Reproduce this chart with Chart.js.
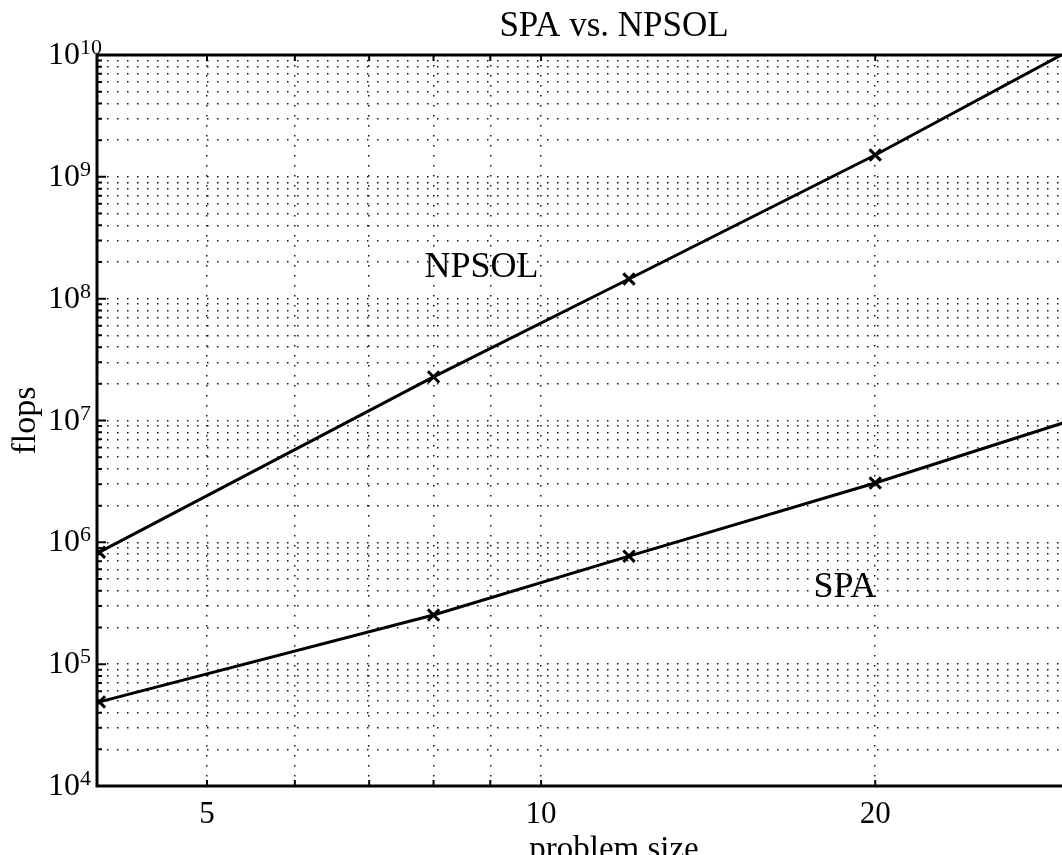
<!DOCTYPE html>
<html>
<head>
<meta charset="utf-8">
<title>SPA vs. NPSOL</title>
<script src="https://cdn.jsdelivr.net/npm/chart.js@4.4.0/dist/chart.umd.min.js"></script>
<style>
  html, body { margin: 0; padding: 0; background: #fff; overflow: hidden; }
  #wrap { width: 1062px; height: 855px; overflow: hidden; }
  canvas { display: block; }
</style>
</head>
<body>
<div id="wrap"><canvas id="flopsChart" width="1228" height="872"></canvas></div>
<script>
// values
const sizes = [4, 8, 12, 20, 30];
const npsolFlops = [8.3e5, 2.28e7, 1.45e8, 1.51e9, 1.1e10];
const spaFlops = [4.9e4, 2.53e5, 7.7e5, 3.07e6, 1.0e7];

// axis labels
const xTickValues = [5, 10, 20];
const yTickValues = [1e4, 1e5, 1e6, 1e7, 1e8, 1e9, 1e10];
const yTickExponents = ['4', '5', '6', '7', '8', '9', '10'];

// in-plot series names, placed in data coordinates
const seriesNames = ['NPSOL', 'SPA'];
const nameAtX = [7.85, 17.6];
const nameAtY = [1.51e8, 3.56e5];

const serif = "'Liberation Serif', 'Times New Roman', serif";

const toPoints = (ys) => sizes.map((x, i) => ({ x: x, y: ys[i] }));

// only 1..9 x 10^n grid lines (drop the 1.5 x 10^n and end ticks chart.js adds)
const keepWholeTicks = (scale) => {
    scale.ticks = scale.ticks.filter(t => {
        const m = t.value / Math.pow(10, Math.floor(Math.log10(t.value) + 1e-9));
        return Math.abs(m - Math.round(m)) < 1e-6;
    });
};

// box round the axes plus small inward tick marks
const frame = {
    id: 'frame',
    afterDraw(chart) {
        const { ctx, chartArea: { left, right, top, bottom }, scales: { x, y } } = chart;
        ctx.save();
        ctx.strokeStyle = '#000';
        ctx.lineWidth = 2;
        ctx.beginPath();
        x.ticks.forEach(t => {
            const px = x.getPixelForValue(t.value);
            ctx.moveTo(px, bottom); ctx.lineTo(px, bottom - 6);
            ctx.moveTo(px, top); ctx.lineTo(px, top + 6);
        });
        y.ticks.forEach(t => {
            const py = y.getPixelForValue(t.value);
            const len = yTickValues.includes(t.value) ? 9 : 5;
            ctx.moveTo(left, py); ctx.lineTo(left + len, py);
        });
        ctx.stroke();
        ctx.lineWidth = 3;
        ctx.strokeRect(left, top, right - left, bottom - top);
        ctx.restore();
    }
};

// y labels as 10 with a raised exponent
const powerLabels = {
    id: 'powerLabels',
    afterDraw(chart) {
        const { ctx, chartArea: { left }, scales: { y } } = chart;
        ctx.save();
        ctx.fillStyle = '#000';
        ctx.textAlign = 'left';
        ctx.textBaseline = 'alphabetic';
        yTickValues.forEach((v, i) => {
            const py = y.getPixelForValue(v);
            const x0 = left - 49;
            ctx.font = '32px ' + serif;
            ctx.fillText('10', x0, py + 9);
            const w = ctx.measureText('10').width;
            ctx.font = '22px ' + serif;
            ctx.fillText(yTickExponents[i], x0 + w, py - 1);
        });
        ctx.restore();
    }
};

const seriesText = {
    id: 'seriesText',
    afterDatasetsDraw(chart) {
        const { ctx, scales: { x, y } } = chart;
        ctx.save();
        ctx.font = '36px ' + serif;
        ctx.fillStyle = '#000';
        ctx.textAlign = 'left';
        ctx.textBaseline = 'alphabetic';
        seriesNames.forEach((name, i) => {
            ctx.fillText(name, x.getPixelForValue(nameAtX[i]), y.getPixelForValue(nameAtY[i]));
        });
        ctx.restore();
    }
};

const lineStyle = {
    borderColor: '#000',
    backgroundColor: '#000',
    borderWidth: 3,
    pointStyle: 'crossRot',
    pointRadius: 8,
    pointBorderWidth: 3,
    pointBorderColor: '#000',
    tension: 0,
    fill: false
};

const gridStyle = { color: '#111', lineWidth: 1.5 };
const borderStyle = { display: false, dash: [1.5, 8.5] };

new Chart(document.getElementById('flopsChart'), {
    type: 'line',
    data: {
        datasets: [
            Object.assign({ label: seriesNames[0], data: toPoints(npsolFlops) }, lineStyle),
            Object.assign({ label: seriesNames[1], data: toPoints(spaFlops) }, lineStyle)
        ]
    },
    options: {
        responsive: false,
        animation: false,
        layout: { padding: { left: 0, top: 0, bottom: 0, right: 97 } },
        plugins: {
            legend: { display: false },
            tooltip: { enabled: false },
            title: {
                display: true,
                fullSize: false,
                text: 'SPA vs. NPSOL',
                color: '#000',
                font: { family: serif, size: 35, weight: 'normal' },
                padding: { top: 6, bottom: 7 }
            }
        },
        scales: {
            x: {
                type: 'logarithmic',
                min: 3.98,
                max: 34,
                grid: Object.assign({ drawTicks: false }, gridStyle),
                border: borderStyle,
                afterBuildTicks: keepWholeTicks,
                ticks: {
                    autoSkip: false,
                    maxRotation: 0,
                    padding: 10,
                    color: '#000',
                    font: { family: serif, size: 31 },
                    callback: (v) => xTickValues.includes(v) ? String(v) : ''
                },
                title: {
                    display: true,
                    text: 'problem size',
                    color: '#000',
                    font: { family: serif, size: 33 },
                    padding: { top: 0, bottom: 2 }
                },
                afterFit: (scale) => { scale.height = 86; }
            },
            y: {
                type: 'logarithmic',
                min: 1e4,
                max: 1e10,
                grid: Object.assign({ drawTicks: false }, gridStyle),
                border: borderStyle,
                afterBuildTicks: keepWholeTicks,
                ticks: { display: false, autoSkip: false },
                title: {
                    display: true,
                    text: 'flops',
                    color: '#000',
                    font: { family: serif, size: 34 },
                    padding: { top: 6, bottom: 0 }
                },
                afterFit: (scale) => { scale.width = 97; }
            }
        }
    },
    plugins: [seriesText, frame, powerLabels]
});
</script>
</body>
</html>
